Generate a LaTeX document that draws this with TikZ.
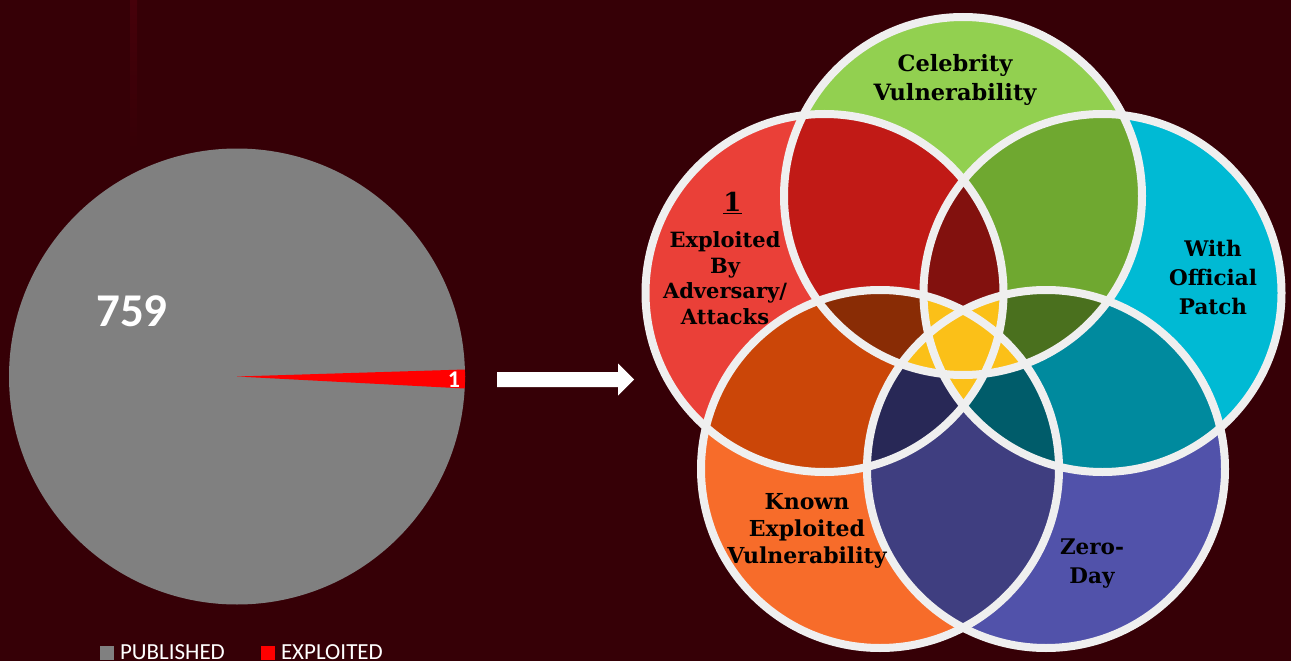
\documentclass[tikz,border=0pt]{standalone}
\usepackage{fontspec}
\setmainfont{DejaVu Serif}
\newfontfamily\calibri{Carlito}
\begin{document}
\begin{tikzpicture}[x=1pt,y=-1pt,
  every node/.style={inner sep=0pt, outer sep=0pt},
  vlabel/.style={align=center, text=black, font=\bfseries},
  ring/.style={draw=ringwhite, line width=8pt},
  legendtext/.style={anchor=base west, text=white, font=\calibri\fontsize{23}{26}\selectfont}]
\definecolor{bg}{RGB}{54,0,6}
\definecolor{streak}{RGB}{70,1,10}
\definecolor{piegray}{RGB}{128,128,128}
\definecolor{wedgered}{RGB}{255,0,0}
\definecolor{ringwhite}{RGB}{239,239,239}
\definecolor{cGreen}{RGB}{146,208,80}
\definecolor{cRed}{RGB}{234,64,56}
\definecolor{cCyan}{RGB}{0,186,212}
\definecolor{cOrange}{RGB}{247,108,42}
\definecolor{cPurple}{RGB}{81,82,170}
\definecolor{pTUL}{RGB}{193,26,22}
\definecolor{pTUR}{RGB}{111,168,48}
\definecolor{pULLL}{RGB}{203,70,8}
\definecolor{pURLR}{RGB}{0,138,158}
\definecolor{pLLLR}{RGB}{63,62,128}
\definecolor{tTULUR}{RGB}{130,17,14}
\definecolor{tTULLL}{RGB}{137,44,5}
\definecolor{tTURLR}{RGB}{74,112,30}
\definecolor{tULLLLR}{RGB}{40,40,86}
\definecolor{tURLRLL}{RGB}{0,92,106}
\definecolor{core}{RGB}{251,192,24}
\def\R{179pt}

% page and background
\useasboundingbox (0,0) rectangle (1291,661);
\fill[bg] (0,0) rectangle (1291,661);
% faint vertical light streak in the backdrop
\shade[top color=streak, bottom color=bg] (130,0) rectangle (137,150);

% ---------- pie chart ----------
\coordinate (pc) at (237,376.5);
\fill[piegray] (pc) circle[radius=228pt];
\fill[wedgered] (pc) -- (464.9,369.5) -- (465.2,378) -- (464.7,388.5) -- cycle;
\node[text=white, font=\calibri\bfseries\fontsize{24}{26}\selectfont] (one) at (454,380) {1};
\node[text=white, font=\calibri\bfseries\fontsize{47}{50}\selectfont] (big) at (132,311) {759};

% legend
\fill[piegray] (100,646) rectangle (114,660);
\node[legendtext] (lpub) at (120,659.5) {PUBLISHED};
\fill[wedgered] (261,646) rectangle (275,660);
\node[legendtext] (lexp) at (281,659.5) {EXPLOITED};

% ---------- block arrow ----------
\coordinate (a0) at (497,372);
\coordinate (a1) at (634,379.5);
\fill[white] (a0) -- (618,372) -- (618,363.5) -- (a1) -- (618,395.5) -- (618,387) -- (497,387) -- cycle;

% ---------- five-set diagram ----------
\coordinate (cT)  at (963,196);
\coordinate (cUL) at (824.5,293);
\coordinate (cUR) at (1102.5,293);
\coordinate (cLL) at (880,469);
\coordinate (cLR) at (1046,469);

% single sets
\fill[cGreen]  (cT)  circle[radius=\R];
\fill[cRed]    (cUL) circle[radius=\R];
\fill[cCyan]   (cUR) circle[radius=\R];
\fill[cOrange] (cLL) circle[radius=\R];
\fill[cPurple] (cLR) circle[radius=\R];

% neighbouring pairs
\begin{scope}\clip (cT) circle[radius=\R];  \fill[pTUL]  (cUL) circle[radius=\R];\end{scope}
\begin{scope}\clip (cT) circle[radius=\R];  \fill[pTUR]  (cUR) circle[radius=\R];\end{scope}
\begin{scope}\clip (cUL) circle[radius=\R]; \fill[pULLL] (cLL) circle[radius=\R];\end{scope}
\begin{scope}\clip (cUR) circle[radius=\R]; \fill[pURLR] (cLR) circle[radius=\R];\end{scope}
\begin{scope}\clip (cLL) circle[radius=\R]; \fill[pLLLR] (cLR) circle[radius=\R];\end{scope}

% neighbouring triples
\begin{scope}\clip (cT) circle[radius=\R]; \clip (cUL) circle[radius=\R]; \fill[tTULUR] (cUR) circle[radius=\R];\end{scope}
\begin{scope}\clip (cT) circle[radius=\R]; \clip (cUL) circle[radius=\R]; \fill[tTULLL] (cLL) circle[radius=\R];\end{scope}
\begin{scope}\clip (cT) circle[radius=\R]; \clip (cUR) circle[radius=\R]; \fill[tTURLR] (cLR) circle[radius=\R];\end{scope}
\begin{scope}\clip (cUL) circle[radius=\R]; \clip (cLL) circle[radius=\R]; \fill[tULLLLR] (cLR) circle[radius=\R];\end{scope}
\begin{scope}\clip (cUR) circle[radius=\R]; \clip (cLR) circle[radius=\R]; \fill[tURLRLL] (cLL) circle[radius=\R];\end{scope}

% four or five sets: the core star
\begin{scope}\clip (cUL) circle[radius=\R]; \clip (cUR) circle[radius=\R]; \clip (cLL) circle[radius=\R]; \fill[core] (cLR) circle[radius=\R];\end{scope}
\begin{scope}\clip (cT) circle[radius=\R]; \clip (cUR) circle[radius=\R]; \clip (cLL) circle[radius=\R]; \fill[core] (cLR) circle[radius=\R];\end{scope}
\begin{scope}\clip (cT) circle[radius=\R]; \clip (cUL) circle[radius=\R]; \clip (cLL) circle[radius=\R]; \fill[core] (cLR) circle[radius=\R];\end{scope}
\begin{scope}\clip (cT) circle[radius=\R]; \clip (cUL) circle[radius=\R]; \clip (cUR) circle[radius=\R]; \fill[core] (cLR) circle[radius=\R];\end{scope}
\begin{scope}\clip (cT) circle[radius=\R]; \clip (cUL) circle[radius=\R]; \clip (cUR) circle[radius=\R]; \fill[core] (cLL) circle[radius=\R];\end{scope}

% white rings
\draw[ring] (cT)  circle[radius=\R];
\draw[ring] (cUL) circle[radius=\R];
\draw[ring] (cUR) circle[radius=\R];
\draw[ring] (cLL) circle[radius=\R];
\draw[ring] (cLR) circle[radius=\R];

% set labels
\node[vlabel, font=\bfseries\fontsize{22.5}{29}\selectfont] (lT) at (955,80) {Celebrity\\Vulnerability};
\node[vlabel, font=\bfseries\fontsize{26}{28}\selectfont] (lOne) at (732.5,203) {\underline{1}};
\node[vlabel, font=\bfseries\fontsize{21}{25.5}\selectfont] (lUL) at (725,278) {Exploited\\By\\Adversary/\\Attacks};
\node[vlabel, font=\bfseries\fontsize{21.5}{29}\selectfont] (lUR) at (1213,277.5) {With\\Official\\Patch};
\node[vlabel, font=\bfseries\fontsize{22}{27}\selectfont] (lLL) at (807,530.5) {Known\\Exploited\\Vulnerability};
\node[vlabel, font=\bfseries\fontsize{21.5}{29}\selectfont] (lLR) at (1092,563.5) {Zero-\\Day};
\end{tikzpicture}
\end{document}
